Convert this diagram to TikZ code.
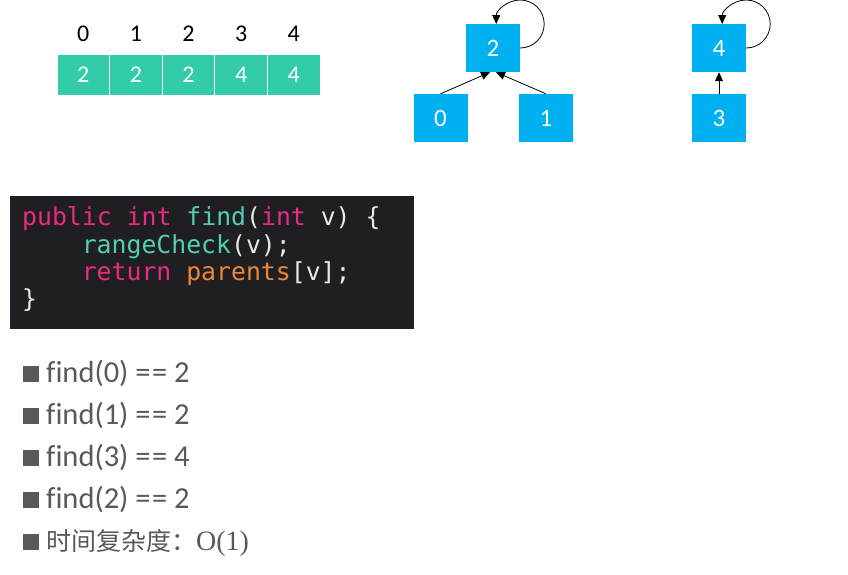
\documentclass[tikz,border=0pt]{standalone}
\usepackage{fontspec}
\setmainfont{Carlito}[Ligatures=CommonOff]
\newfontfamily\codefont{DejaVu Sans Mono}
\newfontfamily\cjk{Noto Sans CJK SC}
\newfontfamily\timesfont{Liberation Serif}
\usetikzlibrary{arrows.meta}
\definecolor{arrgreen}{HTML}{33CCA8}
\definecolor{nodeblue}{HTML}{00B0F0}
\definecolor{codebg}{HTML}{1F1F23}
\definecolor{kwpink}{HTML}{EC2A7E}
\definecolor{fnteal}{HTML}{52D0AE}
\definecolor{idorange}{HTML}{EE8636}
\definecolor{plainwhite}{HTML}{E8E8E8}
\definecolor{txtgray}{HTML}{595959}
\begin{document}
\begin{tikzpicture}[x=1pt,y=-1pt,
  cell/.style={fill=arrgreen,draw=white,line width=1pt,text=white,minimum width=52.6pt,minimum height=41pt,inner sep=0pt,font=\fontsize{24}{24}\selectfont},
  idx/.style={inner sep=0pt,font=\fontsize{24}{24}\selectfont},
  box/.style={fill=nodeblue,text=white,minimum width=54pt,minimum height=48pt,inner sep=0pt,font=\fontsize{25}{25}\selectfont},
  link/.style={-{Triangle[length=9pt,width=8pt]},thick},
  codeline/.style={anchor=base west,inner sep=0pt,font=\fontsize{24.8}{24.8}\codefont,text=plainwhite},
  bullet/.style={fill=txtgray,minimum size=16pt,inner sep=0pt},
  item/.style={anchor=base west,inner sep=0pt,text=txtgray,font=\fontsize{30.5}{30.5}\selectfont}]
\useasboundingbox (0,0) rectangle (848,574);
% array of parents
\foreach \i/\v in {0/2,1/2,2/2,3/4,4/4}{
  \node[cell] (c\i) at (83.3+\i*52.6,74.5) {\v};
  \node[idx] (i\i) at (83.3+\i*52.6,34) {\i};
}
% trees
\node[box] (n2) at (493,48) {2};
\node[box] (n0) at (440.5,118) {0};
\node[box] (n1) at (546,118) {1};
\node[box] (n4) at (719,48) {4};
\node[box] (n3) at (719,118) {3};
\draw[link] (n0.north) -- ([xshift=-3pt]n2.south);
\draw[link] (n1.north) -- ([xshift=3pt]n2.south);
\draw[link] (n3.north) -- (n4.south);
\draw[link] (n2.east) arc[start angle=-90,end angle=180,radius=24pt];
\draw[link] (n4.east) arc[start angle=-90,end angle=180,radius=24pt];
% code
\node[fill=codebg,anchor=north west,minimum width=404pt,minimum height=133pt,inner sep=0pt] (code) at (10,196) {};
\node[codeline] (l1) at (22,225) {\textcolor{kwpink}{public int }\textcolor{fnteal}{find}(\textcolor{kwpink}{int} v) \{};
\node[codeline] (l2) at (81.6,253) {\textcolor{fnteal}{rangeCheck}(v);};
\node[codeline] (l3) at (81.6,280.5) {\textcolor{kwpink}{return }\textcolor{idorange}{parents}[v];};
\node[codeline] (l4) at (22,307.5) {\}};
% list
\foreach \a/\b [count=\k from 0] in {0/2,1/2,3/4,2/2}{
  \node[bullet] (b\k) at (31,373.5+\k*42.2) {};
  \node[item] (t\k) at (46,382+\k*42.2) {find(\a) =\hspace{1.5pt}= \b};
}
\node[bullet] (b4) at (31,542.3) {};
\node[item] (t4) at (46,550.8) {{\fontsize{25}{25}\selectfont\cjk 时间复杂度：}{\fontsize{28}{28}\selectfont\timesfont O(1)}};
\end{tikzpicture}
\end{document}
